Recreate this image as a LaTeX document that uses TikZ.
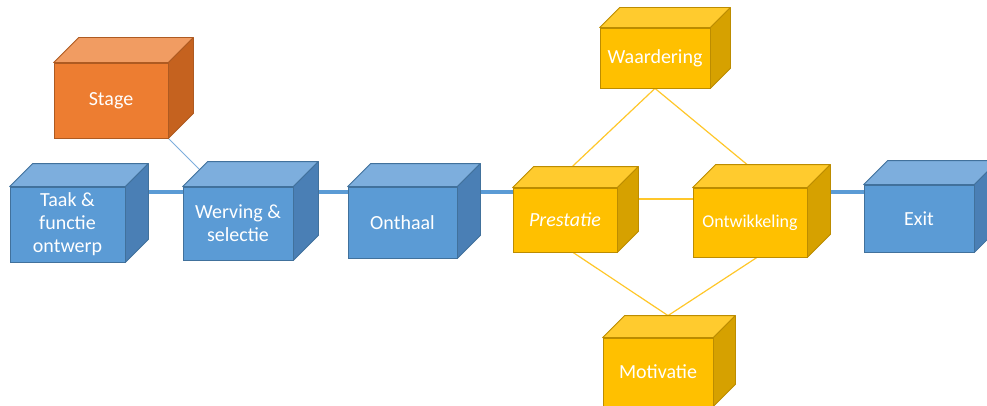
\documentclass[tikz,border=0pt]{standalone}
\usepackage{fontspec}
\setmainfont{Carlito}
\usetikzlibrary{positioning,calc,backgrounds}
\definecolor{bluefront}{HTML}{5B9BD5}
\definecolor{bluetop}{HTML}{7DAEDD}
\definecolor{blueside}{HTML}{4A7FB5}
\definecolor{blueedge}{HTML}{41719C}
\definecolor{orangefront}{HTML}{ED7D31}
\definecolor{orangetop}{HTML}{F19C62}
\definecolor{orangeside}{HTML}{C5621F}
\definecolor{orangeedge}{HTML}{AE5A21}
\definecolor{yellowfront}{HTML}{FFC000}
\definecolor{yellowtop}{HTML}{FFCB2E}
\definecolor{yellowside}{HTML}{D6A100}
\definecolor{yellowedge}{HTML}{BC8C00}
\definecolor{yellowline}{HTML}{FFC72A}

\tikzset{
  cubefront/.style={draw=#1edge, fill=#1front, line width=0.8pt, inner sep=0pt,
    text=white, align=center, font=\fontsize{20}{23}\selectfont},
  cubeface/.style={fill=#1, line width=0.8pt, line join=round},
  mainline/.style={draw=bluefront, line width=3.5pt},
  stageline/.style={draw=bluetop, line width=1pt},
  linkline/.style={draw=yellowline, line width=1.2pt},
}

% front face as a node, top and side faces drawn from its anchors
\newcommand{\cubebox}[7]{%
  \node[cubefront=#6, minimum width=#3pt, minimum height=#4pt] (#1) at (#2) {#7};
  \filldraw[cubeface=#6top, draw=#6edge] (#1.north west) -- ++(#5,#5)
    -- ($(#1.north east)+(#5,#5)$) -- (#1.north east) -- cycle;
  \filldraw[cubeface=#6side, draw=#6edge] (#1.north east) -- ++(#5,#5)
    -- ($(#1.south east)+(#5,#5)$) -- (#1.south east) -- cycle;
}

\begin{document}
\begin{tikzpicture}[x=1pt,y=1pt]
  \useasboundingbox (0,0) rectangle (987,405);

  \cubebox{stage}{111,304.5}{114}{75}{25}{orange}{Stage}
  \cubebox{taak}{67.5,180.5}{115}{75}{23}{blue}{Taak \&\\functie\\ontwerp}
  \cubebox{werving}{238,181.5}{110}{73}{25}{blue}{Werving \&\\selectie}
  \cubebox{onthaal}{402.5,182.5}{109}{71}{23}{blue}{Onthaal}
  \cubebox{prestatie}{565,185}{104}{64}{21}{yellow}{\itshape Prestatie}
  \cubebox{ontwikkeling}{750,182.5}{114}{69}{23}{yellow}{\fontsize{18}{21}\selectfont Ontwikkeling}
  \cubebox{waardering}{655,347}{110}{60}{20}{yellow}{Waardering}
  \cubebox{motivatie}{658,33}{110}{68}{22}{yellow}{Motivatie}
  \cubebox{exit}{919,186.5}{110}{67}{24}{blue}{Exit}

  \coordinate (spine) at (0,213);

  \begin{pgfonlayer}{background}
    \draw[mainline] (taak.east |- spine) -- (werving.west |- spine);
    \draw[mainline] (werving.east |- spine) -- (onthaal.west |- spine);
    \draw[mainline] (onthaal.east |- spine) -- (prestatie.west |- spine);
    \draw[mainline] (ontwikkeling.east |- spine) -- (exit.west |- spine);
    \draw[stageline] (stage.south east) -- ([xshift=34]werving.north west);

    \draw[linkline] (waardering.south) -- ([xshift=-15]prestatie.north);
    \draw[linkline] (waardering.south) -- ([xshift=25]ontwikkeling.north);
    \draw[linkline] ([yshift=21]prestatie.east) -- ([yshift=21]prestatie.east -| ontwikkeling.west);
    \draw[linkline] ([xshift=8]prestatie.south) -- ([shift={(10,22)}]motivatie.north);
    \draw[linkline] ([xshift=7]ontwikkeling.south) -- ([shift={(10,22)}]motivatie.north);
  \end{pgfonlayer}
\end{tikzpicture}
\end{document}
